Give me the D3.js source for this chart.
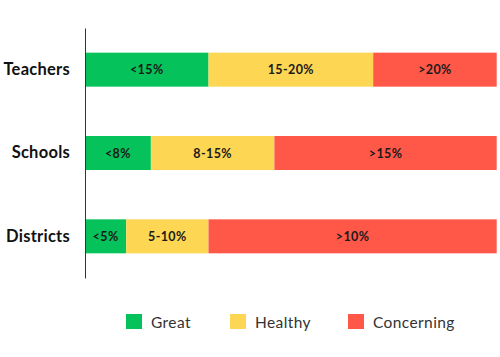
<!DOCTYPE html>
<html><head><meta charset="utf-8">
<script src="https://cdn.jsdelivr.net/npm/d3@7"></script>
<style>body{margin:0;background:#fff}svg{display:block}</style>
</head><body>
<script>
const categories = ["Teachers", "Schools", "Districts"];
const seriesNames = ["Great", "Healthy", "Concerning"];
const greatValues = [30, 16, 10];
const healthyValues = [40, 30, 20];
const concerningValues = [30, 54, 70];
const greatLabels = ["<15%", "<8%", "<5%"];
const healthyLabels = ["15-20%", "8-15%", "5-10%"];
const concerningLabels = [">20%", ">15%", ">10%"];
const colors = ["#06C25A", "#FDD654", "#FF5849"];

const W = 500, H = 357;
const svg = d3.select("body").append("svg").attr("width", W).attr("height", H);

const x = d3.scaleLinear().domain([0, 100]).range([85, 496.7]);
const y = d3.scaleBand().domain(categories).range([28, 278]).paddingInner(0.592).paddingOuter(0.296);

const rows = categories.map((c, i) => ({
  cat: c,
  Great: greatValues[i], Healthy: healthyValues[i], Concerning: concerningValues[i],
  labels: [greatLabels[i], healthyLabels[i], concerningLabels[i]]
}));
const stacked = d3.stack().keys(seriesNames)(rows);

const font = "Lato, 'Open Sans', sans-serif";

stacked.forEach((layer, si) => {
  const g = svg.append("g");
  g.selectAll("rect").data(layer).join("rect")
    .attr("x", d => x(d[0]))
    .attr("y", d => y(d.data.cat))
    .attr("width", d => x(d[1]) - x(d[0]))
    .attr("height", y.bandwidth())
    .attr("fill", colors[si]);
  g.selectAll("text").data(layer).join("text")
    .attr("x", d => (x(d[0]) + x(d[1])) / 2)
    .attr("y", d => y(d.data.cat) + y.bandwidth() / 2)
    .attr("text-anchor", "middle")
    .attr("dominant-baseline", "central")
    .attr("font-family", font)
    .attr("font-weight", 700)
    .attr("font-size", 12.5)
    .attr("letter-spacing", 0.4)
    .attr("fill", "#1a1a1a")
    .text(d => d.data.labels[si]);
});

// axis
const yAxis = d3.axisLeft(y).tickSize(0).tickPadding(15);
const ax = svg.append("g").attr("transform", "translate(85,0)").call(yAxis);
ax.select(".domain").attr("stroke", "#333").attr("stroke-width", 1);
ax.selectAll("text").attr("font-family", font).attr("font-weight", 700)
  .attr("font-size", 16.5).attr("letter-spacing", 0.25).attr("fill", "#111");

// legend
const legendX = [126, 230, 348];
const lg = svg.append("g");
seriesNames.forEach((n, i) => {
  lg.append("rect").attr("x", legendX[i]).attr("y", 314).attr("width", 16).attr("height", 15).attr("fill", colors[i]);
  lg.append("text").attr("x", legendX[i] + 25).attr("y", 321.5)
    .attr("dominant-baseline", "central")
    .attr("font-family", font).attr("font-size", 15.5).attr("letter-spacing", 0.4).attr("fill", "#333")
    .text(n);
});
</script>
</body></html>
